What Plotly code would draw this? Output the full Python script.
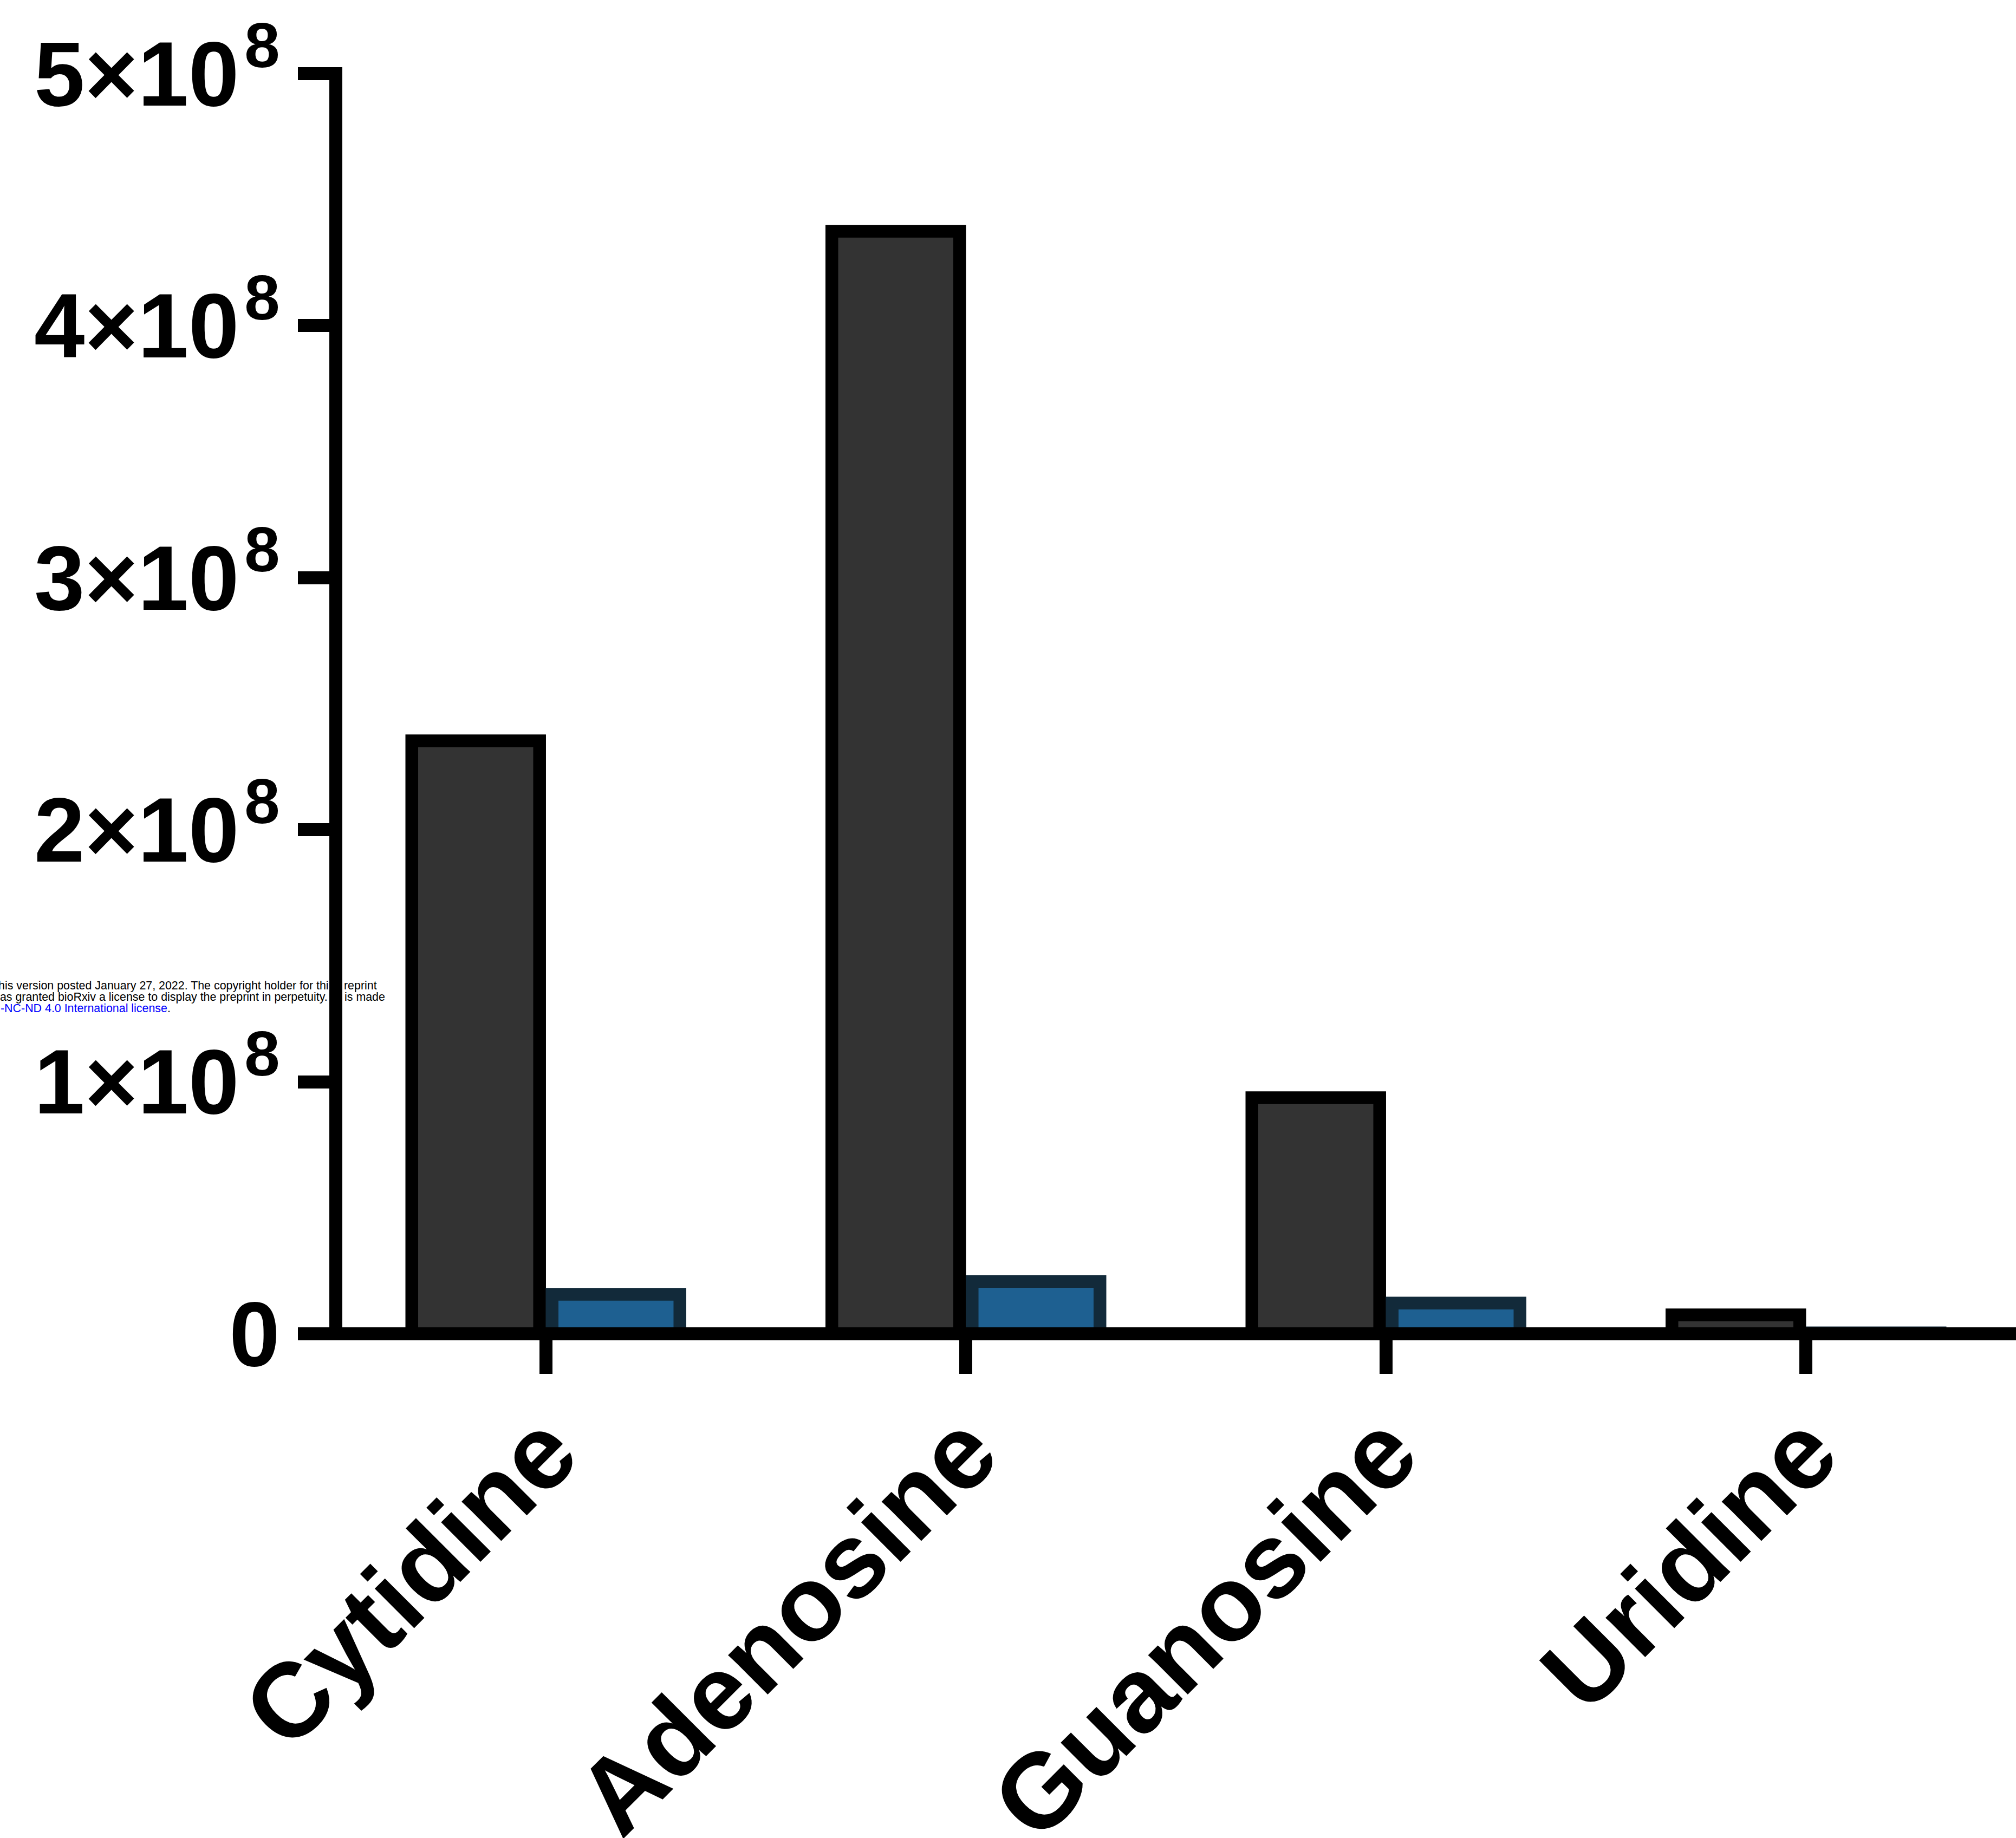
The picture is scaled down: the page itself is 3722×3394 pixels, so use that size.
import plotly.graph_objects as go

# ---- data -------------------------------------------------------------
categories = ["Cytidine", "Adenosine", "Guanosine", "Uridine"]
series_dark = [2.353e8, 4.375e8, 0.937e8, 7.5e6]
series_blue = [1.57e7, 2.08e7, 1.22e7, 4.0e5]

y_tick_values = [0, 1e8, 2e8, 3e8, 4e8, 5e8]
y_tick_labels = ["0"] + [f"{k}×10<sup>\u200a8</sup>" for k in range(1, 6)]

# ---- styling ----------------------------------------------------------
W, H = 3722, 3394
LW = 23.5                      # axis / outline stroke width
DARK_FILL, DARK_LINE = "#333333", "#000000"
BLUE_FILL, BLUE_LINE = "#1e6091", "#122a3a"
FONT = "Liberation Sans, Arial, sans-serif"

# plot area (pixels)
left, right, top, bottom = 608, 0, 124, 919
plot_w = W - left - right
plot_h = H - top - bottom
half = 12                      # half of the axis stroke

# y: 0 sits on the centre of the x axis line, 5e8 on the top tick
px_per_unit_y = 465.4 / 1e8
y_range = [-half / px_per_unit_y, (plot_h - half) / px_per_unit_y]
# x: category -0.5 sits on the centre of the y axis line
t = 4 * half / (plot_w - half)
x_range = [-0.5 - t, 3.5]

fig = go.Figure()
fig.add_trace(go.Bar(
    name="Series 1", x=categories, y=series_dark,
    marker=dict(color=DARK_FILL, line=dict(color=DARK_LINE, width=LW)),
    hoverinfo="x+y",
))
fig.add_trace(go.Bar(
    name="Series 2", x=categories, y=series_blue,
    marker=dict(color=BLUE_FILL, line=dict(color=BLUE_LINE, width=LW)),
    hoverinfo="x+y",
))

fig.update_layout(
    width=W, height=H,
    margin=dict(l=left, r=right, t=top, b=bottom, pad=0, autoexpand=False),
    paper_bgcolor="white", plot_bgcolor="white",
    showlegend=False,
    barmode="group", bargap=0.332, bargroupgap=0.089,
    font=dict(family=FONT, color="black"),
)

fig.update_xaxes(
    type="category", range=x_range,
    anchor="free", position=half / plot_h,
    showline=True, linecolor="black", linewidth=LW,
    ticks="outside", ticklen=62, tickwidth=LW, tickcolor="black",
    tickangle=-45, showgrid=False, zeroline=False,
    tickfont=dict(family=FONT, size=195, color="black", weight="bold"),
    ticklabelstandoff=-48,
)
fig.update_yaxes(
    range=y_range,
    anchor="free", position=half / plot_w,
    showline=True, linecolor="black", linewidth=LW,
    ticks="outside", ticklen=58, tickwidth=LW, tickcolor="black",
    tickvals=y_tick_values, ticktext=y_tick_labels,
    showgrid=False, zeroline=False,
    tickfont=dict(family=FONT, size=168, color="black", weight="bold"),
    ticklabelstandoff=0,
)

# preprint notice running under the y axis line
def px_x(px):
    return (px - left) / plot_w

def px_y(py):
    return (H - bottom - py) / plot_h

note_font = dict(family=FONT, size=21.4, color="black")
notes = [
    ("his version posted January 27, 2022. The copyright holder for thi", 608, "right", 1820),
    ("reprint", 634, "left", 1820),
    ("has granted bioRxiv a license to display the preprint in perpetuity.", 606, "right", 1841),
    ("is made", 635, "left", 1841),
    ("<span style='color:#0000ff'>-NC-ND 4.0 International license</span>.", 0, "left", 1862),
]
for text, xp, anchor, yp in notes:
    fig.add_annotation(
        text=text, xref="paper", yref="paper",
        x=px_x(xp), y=px_y(yp), xanchor=anchor, yanchor="middle",
        showarrow=False, font=note_font, borderpad=0,
    )

fig.write_html("out.html")
